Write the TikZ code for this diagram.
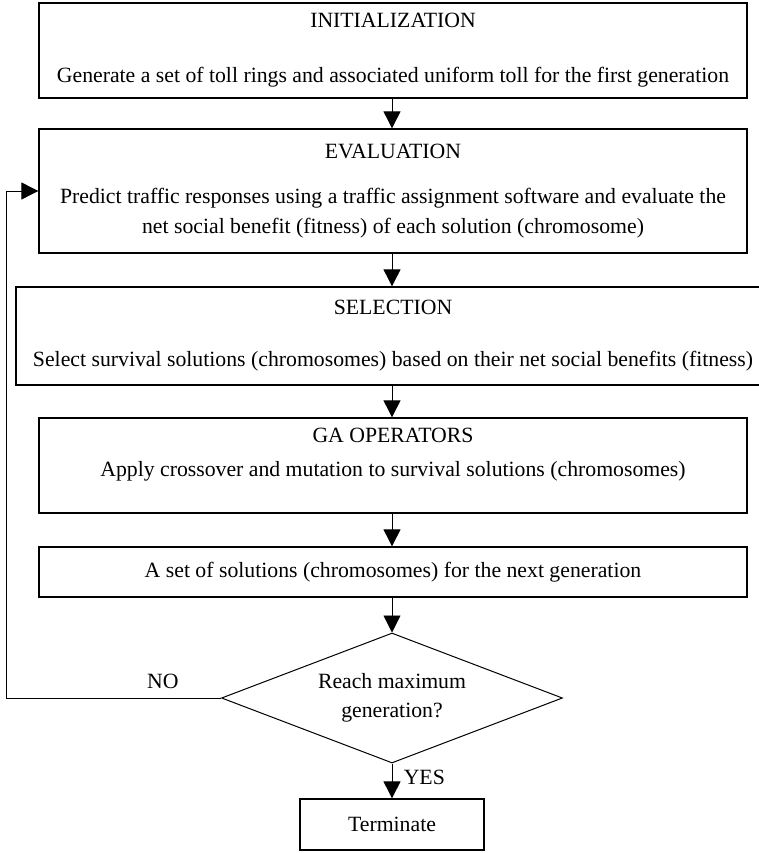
\documentclass[tikz,border=0pt]{standalone}
\usepackage{fontspec}
\setmainfont{Liberation Serif}
\usetikzlibrary{shapes.geometric,arrows.meta}

\tikzset{
    box/.style={draw, line width=1.3pt, minimum width=708pt, inner sep=0pt, align=center,
        font=\fontsize{21.75}{26}\selectfont},
    decision/.style={draw, diamond, aspect=2.6, line width=1pt, minimum width=341pt, minimum height=130pt,
        inner sep=0pt, align=center, font=\fontsize{21.75}{26}\selectfont},
    flow/.style={-{Triangle[length=17pt,width=17pt]}, line width=0.9pt},
    tag/.style={font=\fontsize{21.75}{26}\selectfont},
}

\begin{document}
\begin{tikzpicture}[x=1pt, y=-1pt]
    \useasboundingbox (0,0) rectangle (758,853);
    % 処理の箱
    \node[box, minimum height=95pt] (init) at (393,50.5)
        {INITIALIZATION\\[29pt]Generate a set of toll rings and associated uniform toll for the first generation};
    \node[box, minimum height=124pt] (eval) at (393,191)
        {EVALUATION\\[19pt]Predict traffic responses using a traffic assignment software and evaluate the\\[4pt]net social benefit (fitness) of each solution (chromosome)};
    \node[box, minimum height=98pt, minimum width=754pt] (sel) at (393,336)
        {SELECTION\\[26pt]Select survival solutions (chromosomes) based on their net social benefits (fitness)};
    \node[box, minimum height=95pt] (ga) at (393,465.5)
        {GA OPERATORS\\[8pt]Apply crossover and mutation to survival solutions (chromosomes)\rule[-27pt]{0pt}{0pt}};
    \node[box, minimum height=50pt] (next) at (393,572)
        {A set of solutions (chromosomes) for the next generation};
    % 判定と終了
    \node[decision] (dec) at (392,698) {Reach maximum\\[3pt]generation?};
    \node[box, minimum width=184pt, minimum height=51pt] (term) at (392,824.5) {Terminate};
    \coordinate (back) at (6,0);

    % 矢印
    \draw[flow] (init.south -| dec) -- (eval.north -| dec);
    \draw[flow] (eval.south -| dec) -- (sel.north -| dec);
    \draw[flow] (sel.south -| dec) -- (ga.north -| dec);
    \draw[flow] (ga.south -| dec) -- (next.north -| dec);
    \draw[flow] (next.south -| dec) -- (dec.north);
    \draw[flow] (dec.south) -- node[tag, right=8pt, pos=0.4] {YES} (term.north);
    \draw[flow] (dec.west) -- node[tag, above=6pt, pos=0.27] {NO} (dec.west -| back)
        |- (eval.west);
\end{tikzpicture}
\end{document}
